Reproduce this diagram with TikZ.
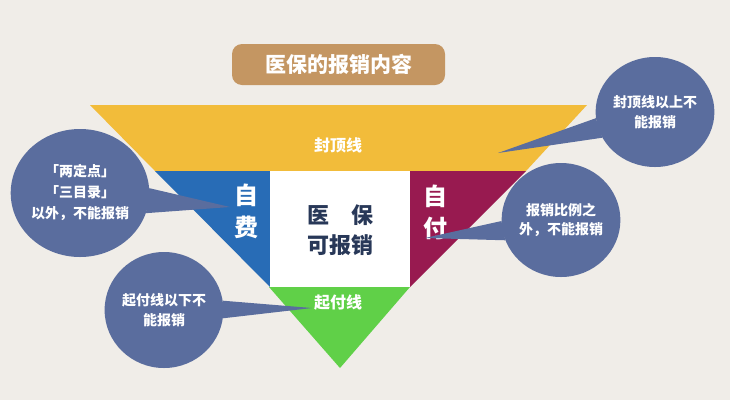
\documentclass[tikz,border=0pt]{standalone}
\usepackage{fontspec}
\setmainfont{Noto Sans CJK SC}
\usetikzlibrary{shapes.geometric}
\definecolor{bg}{RGB}{240,237,232}
\definecolor{titlebrown}{RGB}{196,150,98}
\definecolor{capyellow}{RGB}{242,188,58}
\definecolor{selfblue}{RGB}{40,108,182}
\definecolor{selfred}{RGB}{152,26,80}
\definecolor{basegreen}{RGB}{96,208,72}
\definecolor{bubble}{RGB}{90,109,158}
\definecolor{darktext}{RGB}{40,56,88}
\tikzset{
  bubblenode/.style={ellipse, fill=bubble, inner sep=0pt, text=white, align=center,
    font=\bfseries\fontsize{14}{20}\selectfont},
  bandlabel/.style={text=white, font=\bfseries\fontsize{16}{18}\selectfont},
  sidelabel/.style={text=white, align=center, font=\bfseries\fontsize{24}{32}\selectfont},
  pointer/.style={fill=bubble}
}
\begin{document}
\begin{tikzpicture}[x=1pt,y=-1pt]
\fill[bg] (0,0) rectangle (730,400);
\useasboundingbox (0,0) rectangle (730,400);

% title
\node[fill=titlebrown, rounded corners=10pt, minimum width=213pt, minimum height=41pt,
  text=white, font=\bfseries\fontsize{21}{24}\selectfont] (title) at (338.5,64.5) {医保的报销内容};

% funnel pieces
\fill[capyellow] (90,105) -- (587,105) -- (526,171) -- (155,171) -- cycle;
\fill[selfblue] (155,171) -- (270,171) -- (270,287) -- cycle;
\fill[white] (270,171) rectangle (410,287);
\fill[selfred] (410,171) -- (526,171) -- (410,287) -- cycle;
\fill[basegreen] (269,287) -- (410,287) -- (340,368) -- cycle;

% labels in funnel
\node[bandlabel] (cap) at (338,145) {封顶线};
\node[bandlabel] (base) at (338,302) {起付线};
\node[sidelabel] (zifei) at (246,211) {自\\费};
\node[sidelabel] (zifu) at (435,212) {自\\付};
\node[text=darktext, align=center, font=\bfseries\fontsize{22}{30}\selectfont] (ok) at (340,230) {医　保\\可报销};

% bubbles
\node[bubblenode, minimum width=116pt, minimum height=110pt] (b1) at (655,112) {封顶线以上不\\能报销};
\node[bubblenode, minimum width=124pt, minimum height=128pt, font=\bfseries\fontsize{14}{21}\selectfont] (b2) at (80,193) {「两定点」\\「三目录」\\以外，不能报销};
\node[bubblenode, minimum width=112pt, minimum height=114pt, font=\bfseries\fontsize{14}{19}\selectfont] (b3) at (561,220) {报销比例之\\外，不能报销};
\node[bubblenode, minimum width=114pt, minimum height=116pt] (b4) at (164,310) {起付线以下不\\能报销};

% pointer tips
\coordinate (t1) at (498,153);
\coordinate (t2) at (230,207);
\coordinate (t3) at (425,238);
\coordinate (t4) at (312,308);

\fill[pointer] (b1.186) -- (t1) -- (b1.206) -- cycle;
\fill[pointer] (b2.4) -- (t2) -- (b2.343) -- cycle;
\fill[pointer] (b3.181) -- (t3) -- (b3.200) -- cycle;
\fill[pointer] (b4.9) -- (t4) -- (b4.352) -- cycle;
\end{tikzpicture}
\end{document}
